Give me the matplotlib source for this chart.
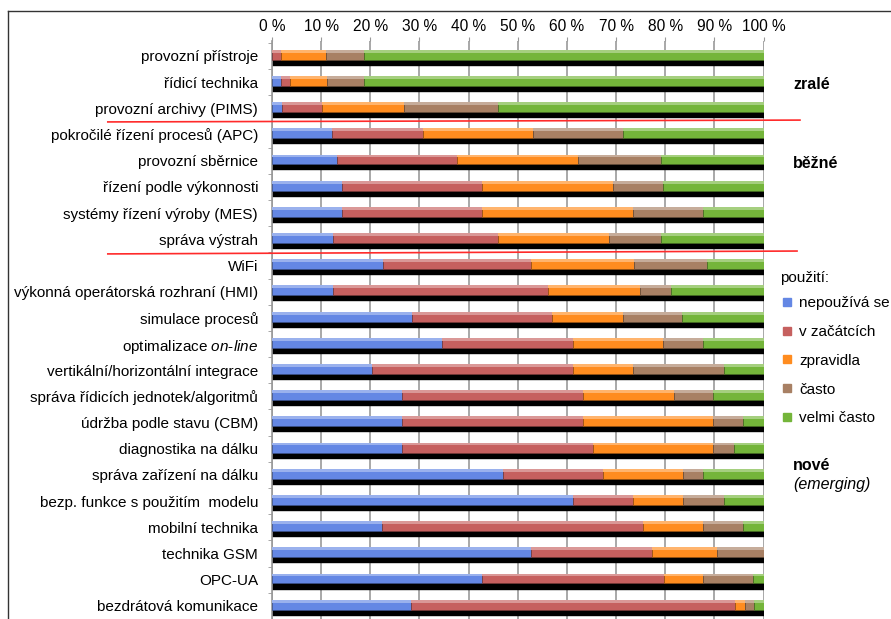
import numpy as np
import matplotlib.pyplot as plt
from matplotlib.lines import Line2D
from matplotlib.colors import to_rgb

plt.rcParams['font.family'] = ['Liberation Sans', 'DejaVu Sans']
plt.rcParams['mathtext.fontset'] = 'custom'
plt.rcParams['mathtext.rm'] = 'Liberation Sans'
plt.rcParams['mathtext.it'] = 'Liberation Sans:italic'

categories = [
    'provozní přístroje',
    'řídicí technika',
    'provozní archivy (PIMS)',
    'pokročilé řízení procesů (APC)',
    'provozní sběrnice',
    'řízení podle výkonnosti',
    'systémy řízení výroby (MES)',
    'správa výstrah',
    'WiFi',
    'výkonná operátorská rozhraní (HMI)',
    'simulace procesů',
    'optimalizace $\\mathit{on}$-$\\mathit{line}$',
    'vertikální/horizontální integrace',
    'správa řídicích jednotek/algoritmů',
    'údržba podle stavu (CBM)',
    'diagnostika na dálku',
    'správa zařízení na dálku',
    'bezp. funkce s použitím  modelu',
    'mobilní technika',
    'technika GSM',
    'OPC-UA',
    'bezdrátová komunikace',
]

series = ['nepoužívá se', 'v začátcích', 'zpravidla', 'často', 'velmi často']

# podíly v %
nepouziva = [0, 1.9, 2.0, 12.2, 13.2, 14.2, 14.2, 12.4, 22.5, 12.5, 28.5,
             34.6, 20.3, 26.4, 26.4, 26.4, 47.0, 61.2, 22.4, 52.7, 42.8, 28.3]
zacatky = [1.9, 1.8, 8.2, 18.5, 24.4, 28.5, 28.5, 33.5, 30.2, 43.6, 28.5,
           26.6, 40.9, 36.9, 36.9, 38.9, 20.3, 12.2, 53.1, 24.6, 36.9, 65.9]
zpravidla = [9.1, 7.5, 16.7, 22.3, 24.6, 26.6, 30.7, 22.7, 20.9, 18.8, 14.4,
             18.3, 12.2, 18.4, 26.5, 24.5, 16.3, 10.2, 12.2, 13.2, 8.0, 2.1]
casto = [7.8, 7.6, 19.0, 18.3, 17.0, 10.3, 14.2, 10.5, 14.9, 6.2, 12.1,
         8.2, 18.5, 8.0, 6.1, 4.1, 4.1, 8.3, 8.2, 9.5, 10.1, 1.7]
velmi_casto = [81.2, 81.2, 54.1, 28.7, 20.8, 20.4, 12.4, 20.9, 11.5, 18.9, 16.5,
               12.3, 8.1, 10.3, 4.1, 6.1, 12.3, 8.1, 4.1, 0.0, 2.2, 2.0]

colors = ['#6487e4', '#c6605f', '#ff8c1f', '#a88064', '#74b53a']

data = np.array([nepouziva, zacatky, zpravidla, casto, velmi_casto])
y = np.arange(len(categories))

fig = plt.figure(figsize=(8.91, 6.19), dpi=100)
ax = fig.add_axes([272/891, 0, 491.6/891, 1 - 41/619])

# cerny stin pod pruhy
total = data.sum(axis=0)
ax.barh(y + 0.118, total, height=0.436, color='black', edgecolor='black', lw=1.0, zorder=2)

left = np.zeros(len(categories))
for vals, col, name in zip(data, colors, series):
    dark = tuple(c * 0.6 for c in to_rgb(col))
    light = tuple(c + (1 - c) * 0.35 for c in to_rgb(col))
    ax.barh(y - 0.046, vals, left=left, height=0.38, color=col,
            edgecolor=dark, lw=0.5, zorder=3, label=name)
    ax.barh(y - 0.18, vals, left=left, height=0.11, color=light, lw=0, zorder=4)
    left += vals

ax.set_xlim(0, 100)
ax.set_ylim(21.49, -0.57)
ax.xaxis.tick_top()
ax.set_xticks(np.arange(0, 101, 10))
ax.set_xticklabels([f'{v} %' for v in range(0, 101, 10)], fontsize=11.2)
ax.tick_params(axis='x', length=3, color='#999999', pad=2)
ax.set_yticks(y)
ax.set_yticklabels(categories, fontsize=11)
ax.set_yticks(np.arange(-0.5, len(categories), 1), minor=True)
ax.tick_params(axis='y', which='major', length=0, pad=10)
ax.tick_params(axis='y', which='minor', length=3, color='#999999')
ax.grid(axis='x', color='#9a9a9a', lw=1.2)
ax.set_axisbelow(True)
for s in ['top', 'right', 'bottom']:
    ax.spines[s].set_visible(False)
ax.spines['left'].set_color('#999999')
ax.spines['left'].set_linewidth(1.2)

# cervene deleni skupin
ax.plot([-33.4, 107.4], [2.52, 2.45], color='#ff2a2a', lw=1.2, clip_on=False, zorder=5)
ax.plot([-33.4, 106.8], [7.56, 7.45], color='#ff2a2a', lw=1.2, clip_on=False, zorder=5)

ax.text(106.0, 1.1, 'zralé', fontsize=11.5, fontweight='bold', va='center', clip_on=False)
ax.text(106.0, 4.1, 'běžné', fontsize=11.5, fontweight='bold', va='center', clip_on=False)
ax.text(106.0, 15.65, 'nové', fontsize=11.5, fontweight='bold', va='center', clip_on=False)
ax.text(106.0, 16.38, '(emerging)', fontsize=11.5, style='italic', va='center', clip_on=False)

fig.text(780/891, 1 - 278/619, 'použití:', fontsize=11, va='center')
handles = [Line2D([], [], marker='s', ls='', markersize=5.5, color=c) for c in colors]
leg = fig.legend(handles, series, loc='upper left',
                 bbox_to_anchor=(776/891, 1 - 290/619), frameon=False,
                 fontsize=11, handlelength=0.6,
                 handletextpad=0.5, labelspacing=0.97,
                 borderaxespad=0)

fig.add_artist(Line2D([8/891, 1], [1 - 11/619, 1 - 11/619], color='#333333', lw=1))
fig.add_artist(Line2D([8/891, 8/891], [0, 1 - 11/619], color='#333333', lw=1))

fig.savefig('out.png', dpi=100)
